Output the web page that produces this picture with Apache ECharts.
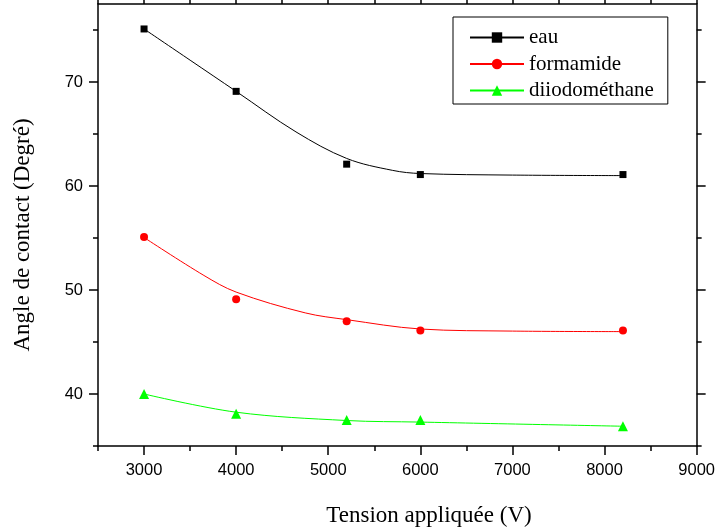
<!DOCTYPE html>
<html>
<head>
<meta charset="utf-8">
<script src="https://cdn.jsdelivr.net/npm/echarts@6/dist/echarts.min.js"></script>
<style>
  html, body { margin: 0; padding: 0; background: #fff; }
  #chart { width: 718px; height: 530px; }
</style>
</head>
<body>
<div id="chart"></div>
<script>
// Measured contact angles (degrees) against applied voltage (V)
const voltages = [3000, 4000, 5200, 6000, 8200];
const eau = [75.1, 69.1, 62.1, 61.1, 61.1];
const formamide = [55.1, 49.1, 47.0, 46.1, 46.1];
const diiodomethane = [40.0, 38.1, 37.5, 37.5, 36.9];

// Fitted trend curves: [voltage, angle]
const eauFit = [[3000, 75.1], [3500, 72.1], [4000, 69.1], [4650, 65.2],
  [5200, 62.65], [5700, 61.5], [6000, 61.2], [7000, 61.05], [8200, 61.0]];
const formamideFit = [[3000, 55.05], [3650, 51.4], [4000, 49.8], [4750, 47.8],
  [5200, 47.15], [6000, 46.25], [7000, 46.05], [8200, 46.0]];
const diiodomethaneFit = [[3000, 40.0], [4000, 38.25], [5200, 37.45],
  [6000, 37.3], [8200, 36.9]];

// Axis ticks
const xMajor = [3000, 4000, 5000, 6000, 7000, 8000, 9000];
const xMinor = [2500, 3500, 4500, 5500, 6500, 7500, 8500];
const yMajor = [40, 50, 60, 70];
const yMinor = [35, 45, 55, 65, 75];

const names = ['eau', 'formamide', 'diiodométhane'];
const colors = ['#000000', '#ff0000', '#00ff00'];
const symbols = ['rect', 'circle', 'triangle'];
const symbolSizes = [7, 8, 10];
const measured = [eau, formamide, diiodomethane];
const fits = [eauFit, formamideFit, diiodomethaneFit];

const tickFont = { fontFamily: '"Liberation Sans", Arial, sans-serif', fontSize: 16.5, color: '#000' };

function frameAxis(position, range, majors, minors, withLabels, margin) {
  const base = {
    type: 'value', position: position, min: range[0], max: range[1],
    splitLine: { show: false }, minorTick: { show: false }, silent: true
  };
  const main = Object.assign({}, base, {
    axisLine: { show: true, onZero: false, lineStyle: { color: '#000', width: 1.5 } },
    axisTick: { show: true, inside: false, length: 9, customValues: majors, lineStyle: { color: '#000', width: 1.5 } },
    axisLabel: withLabels
      ? Object.assign({ show: true, margin: margin, customValues: majors,
          formatter: function (v) { return String(v); } }, tickFont)
      : { show: false }
  });
  const minor = Object.assign({}, base, {
    axisLine: { show: false, onZero: false },
    axisTick: { show: true, inside: false, length: 5, customValues: minors, lineStyle: { color: '#000', width: 1.5 } },
    axisLabel: { show: false }
  });
  return [main, minor];
}

const xRange = [2500, 9000];
const yRange = [35, 77.5];

const series = [];
names.forEach(function (n, i) {
  series.push({
    name: n, type: 'line', smooth: 0.35,
    data: fits[i], showSymbol: false, symbol: symbols[i],
    lineStyle: { color: colors[i], width: 1 }, itemStyle: { color: colors[i] },
    xAxisIndex: 0, yAxisIndex: 0, z: 2, silent: true
  });
});
names.forEach(function (n, i) {
  series.push({
    name: n, type: 'scatter', symbol: symbols[i], symbolSize: symbolSizes[i],
    data: voltages.map(function (v, k) { return [v, measured[i][k]]; }),
    itemStyle: { color: colors[i], opacity: 1 },
    xAxisIndex: 0, yAxisIndex: 0, z: 3, silent: true
  });
});

const chart = echarts.init(document.getElementById('chart'), null, { renderer: 'canvas' });
chart.setOption({
  animation: false,
  backgroundColor: '#fff',
  grid: { left: 98, right: 21, top: 4, bottom: 84, containLabel: false },
  xAxis: [].concat(
    frameAxis('bottom', xRange, xMajor, xMinor, true, 16),
    frameAxis('top', xRange, xMajor, xMinor, false, 0)
  ),
  yAxis: [].concat(
    frameAxis('left', yRange, yMajor, yMinor, true, 15),
    frameAxis('right', yRange, yMajor, yMinor, false, 0)
  ),
  legend: {
    data: names, orient: 'vertical', left: 453, top: 17,
    padding: [10, 14, 3, 16], itemGap: 5.5, itemWidth: 54, itemHeight: 13,
    borderColor: '#000', borderWidth: 1, backgroundColor: '#fff',
    selectedMode: false,
    textStyle: { fontFamily: '"Liberation Serif", "Times New Roman", serif', fontSize: 21, lineHeight: 20, color: '#000' }
  },
  graphic: [
    { type: 'text', x: 429, y: 516, silent: true,
      style: { text: 'Tension appliquée (V)', fontFamily: '"Liberation Serif", "Times New Roman", serif',
        fontSize: 23, fill: '#000', align: 'center', verticalAlign: 'middle' } },
    { type: 'text', x: 23, y: 235, rotation: Math.PI / 2, silent: true,
      style: { text: 'Angle de contact (Degré)', fontFamily: '"Liberation Serif", "Times New Roman", serif',
        fontSize: 23, fill: '#000', align: 'center', verticalAlign: 'middle' } }
  ],
  series: series
});
</script>
</body>
</html>
